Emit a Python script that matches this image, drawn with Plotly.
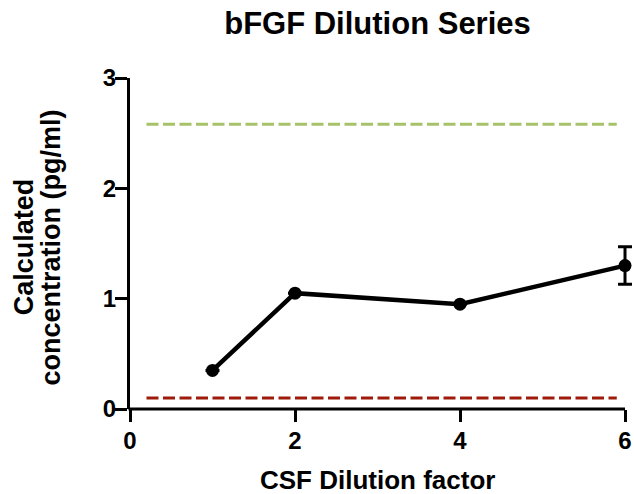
import plotly.graph_objects as go

dilution = [1, 2, 4, 6]
concentration = [0.35, 1.05, 0.95, 1.30]
error = [0, 0, 0, 0.17]
upper_limit_x = [0.2, 5.9]
upper_limit_y = [2.58, 2.58]
lower_limit_x = [0.2, 5.9]
lower_limit_y = [0.10, 0.10]
x_ticks = [0, 2, 4, 6]
y_ticks = [0, 1, 2, 3]
x_axis_end = 6
x_view_max = 6.109   # a little room right of x=6 so the error bar cap is not clipped

FONT = "Liberation Sans, Arial, sans-serif"
title_x = (130 + 0.5 * 504 * x_axis_end / x_view_max) / 634

fig = go.Figure()
fig.add_trace(go.Scatter(x=upper_limit_x, y=upper_limit_y, mode="lines",
                         line=dict(color="#A8C26A", width=3, dash="12px,4.5px"),
                         showlegend=False, hoverinfo="skip"))
fig.add_trace(go.Scatter(x=lower_limit_x, y=lower_limit_y, mode="lines",
                         line=dict(color="#9E1A0B", width=3, dash="12px,4.5px"),
                         showlegend=False, hoverinfo="skip"))
fig.add_trace(go.Scatter(x=dilution, y=concentration, mode="lines+markers",
                         line=dict(color="black", width=4.5),
                         marker=dict(color="black", size=13),
                         error_y=dict(type="data", array=error, visible=True,
                                      color="black", thickness=3, width=7),
                         cliponaxis=False, showlegend=False))

tickfont = dict(family=FONT, size=24, color="black", weight="bold")
axis_common = dict(ticks="outside", ticklen=12, tickwidth=3, tickcolor="black",
                   showgrid=False, zeroline=False, tickfont=tickfont)

fig.update_layout(
    width=634, height=494,
    margin=dict(l=130, r=0, t=78, b=85),
    paper_bgcolor="white", plot_bgcolor="white",
    title=dict(text="<b>bFGF Dilution Series</b>", x=title_x, xref="container",
               y=0.953, yref="container", yanchor="middle", xanchor="center",
               font=dict(family=FONT, size=31, color="black")),
    xaxis=dict(range=[0, x_view_max], tickvals=x_ticks, showline=False,
               ticklabelstandoff=-2, **axis_common),
    yaxis=dict(range=[0, 3], tickvals=y_ticks, showline=True, linecolor="black",
               linewidth=3, ticklabelstandoff=-6, **axis_common),
)

# x axis line from 0 to 6 only
fig.add_shape(type="line", xref="paper", yref="paper",
              x0=-0.003, x1=x_axis_end / x_view_max, y0=0, y1=0,
              line=dict(color="black", width=3))

# axis titles
fig.add_annotation(text="<b>CSF Dilution factor</b>", xref="x", yref="paper",
                   x=x_axis_end / 2, y=-0.213, xanchor="center", yanchor="middle",
                   showarrow=False, font=dict(family=FONT, size=26, color="black"))
fig.add_annotation(text="<b>Calculated</b>", xref="paper", yref="paper",
                   x=-0.21, y=0.489, xanchor="center", yanchor="middle",
                   textangle=-90, showarrow=False,
                   font=dict(family=FONT, size=27, color="black"))
fig.add_annotation(text="<b>concentration (pg/ml)</b>", xref="paper", yref="paper",
                   x=-0.156, y=0.489, xanchor="center", yanchor="middle",
                   textangle=-90, showarrow=False,
                   font=dict(family=FONT, size=27, color="black"))

fig.write_html("out.html")
